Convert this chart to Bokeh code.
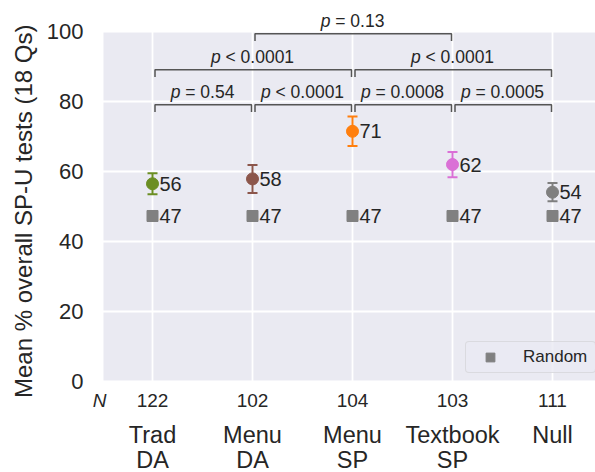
from bokeh.plotting import figure
from bokeh.models import Range1d, FixedTicker, Label, Legend, LegendItem, ColumnDataSource, Title
from bokeh.core.properties import value
from bokeh.embed import file_html
from bokeh.resources import INLINE

# ---------------- data ----------------
conditions = ["Trad\nDA", "Menu\nDA", "Menu\nSP", "Textbook\nSP", "Null"]
n_counts = [122, 102, 104, 103, 111]
means = [56.4, 57.8, 71.4, 61.9, 54.0]
errors = [3.0, 4.0, 4.2, 3.6, 2.6]
mean_labels = ["56", "58", "71", "62", "54"]
random_means = [47.2, 47.2, 47.2, 47.2, 47.2]
random_labels = ["47", "47", "47", "47", "47"]
colors = ["#6b8e23", "#8c564b", "#ff7f0e", "#da70d6", "#7f7f7f"]

pair_left = [0, 1, 2, 3, 0, 2, 1]
pair_right = [1, 2, 3, 4, 2, 4, 3]
bracket_y = [79.0, 79.0, 79.0, 79.0, 89.0, 89.0, 99.3]
p_ops = ["=", "<", "=", "=", "<", "<", "="]
p_vals = ["0.54", "0.0001", "0.0008", "0.0005", "0.0001", "0.0001", "0.13"]

y_ticks = [0, 20, 40, 60, 80, 100]
y_label = "Mean % overall SP-U tests (18 Qs)"

# ---------------- style / layout ----------------
FONT = "Liberation Sans"
TXT = "#262626"
BG = "#eaeaf2"
N_ROW_Y = -5.54          # data-y (text middle) of the "N" row below the shaded area
CAT_ROW1_Y = -15.34      # text middle of first line of condition names
CAT_ROW2_Y = -22.4       # text middle of second line
P_TEXT_GAP = 3.5         # p-value text middle above its bracket
BG_LEFT = -0.49          # left edge of the shaded plotting area

x = list(range(len(conditions)))

p = figure(width=595, height=472,
           x_range=Range1d(-0.62, 4.43), y_range=Range1d(-26.09, 108.77),
           output_backend="svg", toolbar_location=None,
           min_border_left=90, min_border_right=0, min_border_top=0, min_border_bottom=0,
           background_fill_color="white", border_fill_color="white",
           outline_line_color=None)

# shaded area (0..100)
p.quad(left=BG_LEFT, right=p.x_range.end, bottom=y_ticks[0], top=y_ticks[-1],
       fill_color=BG, line_color=None, level="image")

# x axis hidden: the rows below are drawn as text
p.xaxis.visible = False
p.xgrid.ticker = FixedTicker(ticks=x)

# grid
p.xgrid.grid_line_color = "white"
p.ygrid.grid_line_color = "white"
p.xgrid.grid_line_width = 1.8
p.ygrid.grid_line_width = 1.8

# y axis
ya = p.yaxis[0]
ya.ticker = FixedTicker(ticks=y_ticks)
ya.major_label_text_font = FONT
ya.major_label_text_font_size = "22px"
ya.major_label_text_color = TXT
ya.major_label_standoff = 7
ya.major_tick_out = 0
ya.major_tick_in = 0
ya.minor_tick_out = 0
ya.minor_tick_in = 0
ya.axis_line_color = None
p.ygrid.ticker = ya.ticker

p.add_layout(Title(text=y_label, align="left", offset=74.5, standoff=13,
                   text_font=FONT, text_font_size="24px", text_font_style="normal",
                   text_color=TXT), "left")

# N row
p.text(x=x, y=[N_ROW_Y] * len(x), text=[str(n) for n in n_counts],
       text_align="center", text_baseline="middle", text_font=value(FONT),
       text_font_size="19px", text_color=TXT)
p.add_layout(Label(x=-0.53, y=N_ROW_Y, text="N", text_font=FONT, text_font_size="19px",
                   text_font_style="italic", text_color=TXT, text_align="center",
                   text_baseline="middle"))

# condition names (two lines)
line1 = [c.split("\n")[0] for c in conditions]
line2 = [c.split("\n")[1] if "\n" in c else "" for c in conditions]
p.text(x=x, y=[CAT_ROW1_Y] * len(x), text=line1, text_align="center",
       text_baseline="middle", text_font=value(FONT), text_font_size="23.5px",
       text_color=TXT)
p.text(x=x, y=[CAT_ROW2_Y] * len(x), text=line2, text_align="center",
       text_baseline="middle", text_font=value(FONT), text_font_size="23.5px",
       text_color=TXT)

# brackets
xs, ys = [], []
for l, r, yb in zip(pair_left, pair_right, bracket_y):
    xs.append([l + 0.025, l + 0.025, r - 0.01, r - 0.01])
    ys.append([yb - 2.1, yb, yb, yb - 2.1])
p.multi_line(xs=xs, ys=ys, line_color="#555555", line_width=1.5)

# p-value labels (italic p + rest), centred over the bracket
W = {"p": 0.556, " ": 0.278, "=": 0.584, "<": 0.584, ".": 0.278}
for d in "0123456789":
    W[d] = 0.556
PFS = 17.5
for l, r, yb, op, pv in zip(pair_left, pair_right, bracket_y, p_ops, p_vals):
    rest = op + " " + pv
    wp = W["p"] * PFS
    ws = W[" "] * PFS
    wr = sum(W.get(ch, 0.556) for ch in rest) * PFS
    total = wp + ws + wr
    cx = (l + r) / 2
    p.add_layout(Label(x=cx, y=yb + P_TEXT_GAP, text="p", x_offset=-total / 2, text_align="left",
                       text_baseline="middle", text_font=FONT, text_font_size=f"{PFS}px",
                       text_font_style="italic", text_color=TXT))
    p.add_layout(Label(x=cx, y=yb + P_TEXT_GAP, text=rest, x_offset=total / 2, text_align="right",
                       text_baseline="middle", text_font=FONT, text_font_size=f"{PFS}px",
                       text_color=TXT))

# error bars
src = ColumnDataSource(dict(x=x, m=means, lo=[m - e for m, e in zip(means, errors)],
                            hi=[m + e for m, e in zip(means, errors)], c=colors, lab=mean_labels))
p.segment(x0="x", y0="lo", x1="x", y1="hi", line_color="c", line_width=2, source=src)
p.scatter(x="x", y="lo", marker="dash", size=10, line_color="c", line_width=2, source=src)
p.scatter(x="x", y="hi", marker="dash", size=10, line_color="c", line_width=2, source=src)
p.scatter(x="x", y="m", marker="circle", size=12, fill_color="c", line_color="c", source=src)
p.text(x="x", y="m", text="lab", x_offset=7, text_baseline="middle", text_align="left",
       text_font=value(FONT), text_font_size="20px", text_color=TXT, source=src)

# random baseline
rsrc = ColumnDataSource(dict(x=x, m=random_means, lab=random_labels))
sq = p.scatter(x="x", y="m", marker="square", size=11, fill_color="#808080",
               line_color="#808080", source=rsrc)
p.text(x="x", y="m", text="lab", x_offset=7, text_baseline="middle", text_align="left",
       text_font=value(FONT), text_font_size="20px", text_color=TXT, source=rsrc)

legend = Legend(items=[LegendItem(label="Random", renderers=[sq])], location=(375, 99))
legend.label_text_font = FONT
legend.label_text_font_size = "17px"
legend.label_text_color = TXT
legend.border_line_color = "#cccccc"
legend.border_line_width = 1.2
legend.background_fill_color = BG
legend.background_fill_alpha = 0.8
legend.padding = 4
legend.glyph_height = 22
legend.glyph_width = 40
legend.label_height = 22
legend.label_width = 68
legend.label_standoff = 13
legend.margin = 0
if "border_radius" in Legend.properties():
    legend.border_radius = 4
p.add_layout(legend)

open("out.html", "w").write(file_html(p, INLINE))
